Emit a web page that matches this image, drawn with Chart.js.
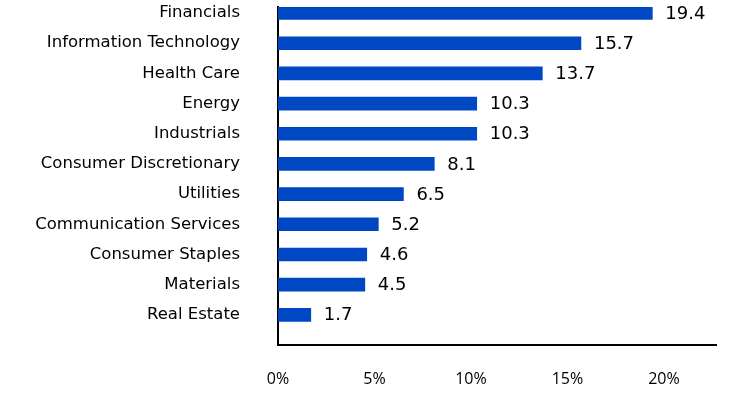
<!DOCTYPE html>
<html>
<head>
<meta charset="utf-8">
<script src="https://cdn.jsdelivr.net/npm/chart.js@4/dist/chart.umd.min.js"></script>
<style>
html,body{margin:0;padding:0;background:#fff;}
#wrap{width:756px;height:420px;}
</style>
</head>
<body>
<div id="wrap"><canvas id="c" width="756" height="420"></canvas></div>
<script>
const categories = ["Financials","Information Technology","Health Care","Energy","Industrials","Consumer Discretionary","Utilities","Communication Services","Consumer Staples","Materials","Real Estate"];
const values = [19.4,15.7,13.7,10.3,10.3,8.1,6.5,5.2,4.6,4.5,1.7];
const xTicks = [0,5,10,15,20];

const FONT = "'DejaVu Sans',sans-serif";
const TICKFONT = "'Open Sans','DejaVu Sans',sans-serif";

const valueLabels = {
  id: 'valueLabels',
  afterDatasetsDraw(chart) {
    const ctx = chart.ctx;
    const meta = chart.getDatasetMeta(0);
    ctx.save();
    ctx.fillStyle = '#000';
    ctx.font = '18px ' + FONT;
    ctx.textBaseline = 'middle';
    ctx.textAlign = 'left';
    meta.data.forEach((el, i) => {
      ctx.fillText(values[i].toFixed(1), el.x + 13, el.y + 1);
    });
    ctx.restore();
  }
};

new Chart(document.getElementById('c'), {
  type: 'bar',
  data: {
    datasets: [{
      data: values.map((v, i) => ({x: v, y: i})),
      backgroundColor: '#0047C3',
      borderWidth: 0,
      barThickness: 13
    }]
  },
  options: {
    indexAxis: 'y',
    responsive: false,
    animation: false,
    devicePixelRatio: 1,
    layout: {padding: {top: 7, right: 40, bottom: 30, left: 0}},
    plugins: {legend: {display: false}, tooltip: {enabled: false}},
    scales: {
      x: {
        type: 'linear',
        min: 0, max: 22.7,
        afterBuildTicks: s => { s.ticks = xTicks.map(v => ({value: v})); },
        afterFit: s => { s.height = 45; s.paddingLeft = 0; s.paddingRight = 0; },
        grid: {display: false, drawTicks: false},
        border: {display: true, color: '#000', width: 2},
        ticks: {color: '#000', font: {family: TICKFONT, size: 16}, padding: 25, maxRotation: 0, callback: v => v + '%'}
      },
      y: {
        type: 'linear',
        reverse: true,
        offset: false,
        min: -0.2, max: 11,
        afterBuildTicks: s => { s.ticks = categories.map((_, i) => ({value: i})); },
        afterFit: s => { s.width = 278; s.paddingTop = 0; s.paddingBottom = 0; },
        grid: {display: false, drawTicks: false, offset: false},
        border: {display: true, color: '#000', width: 2},
        ticks: {color: '#000', font: {family: FONT, size: 16.5}, padding: 38, autoSkip: false, callback: v => categories[v]}
      }
    }
  },
  plugins: [valueLabels]
});
</script>
</body>
</html>
